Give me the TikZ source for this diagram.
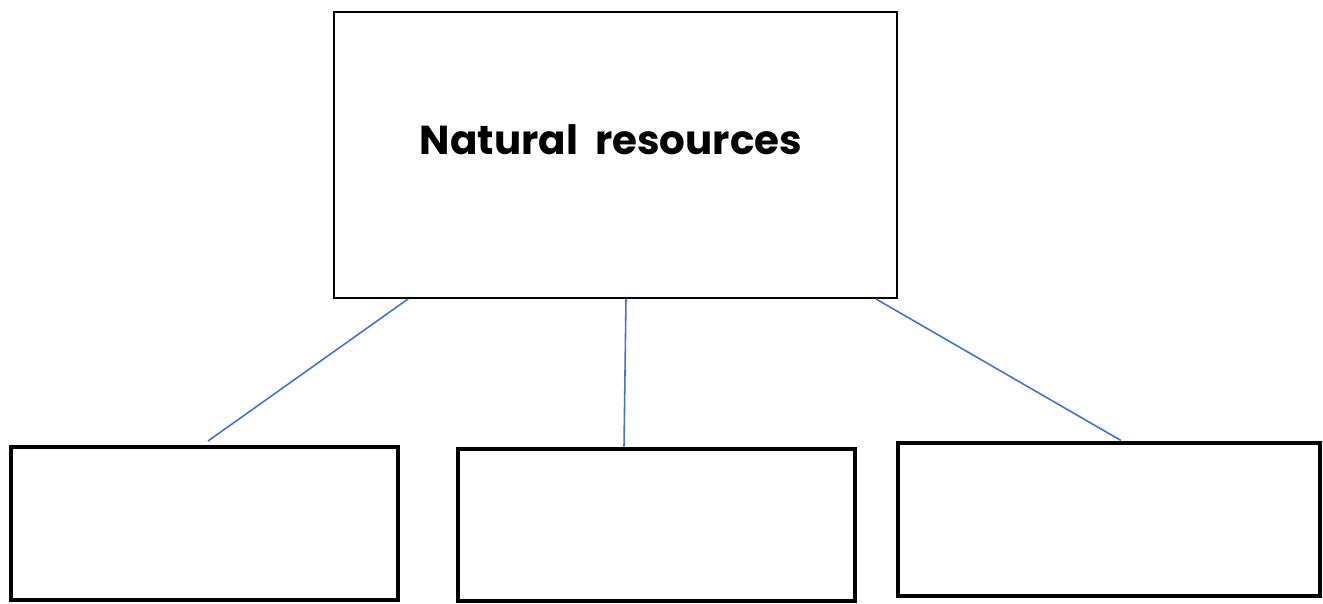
\documentclass[tikz,border=0pt]{standalone}
\usepackage{fontspec}
\setmainfont{Poppins}
\definecolor{linkblue}{HTML}{4472C4}

\begin{document}
\begin{tikzpicture}
	\useasboundingbox (0,0) rectangle (26.46,12.06);
	\tikzstyle{topbox}=[draw, line width=1.1pt, minimum width=11.26cm, minimum height=5.72cm, inner sep=0pt];
	\tikzstyle{leafbox}=[draw, line width=2.8pt, minimum width=7.8cm, minimum height=3.06cm, inner sep=0pt];
	\tikzstyle{link}=[linkblue, line width=0.9pt];
	\path (12.31,8.96) node[topbox] (res) {};
	\path (12.22,9.26) node[font=\bfseries\fontsize{23}{27}\selectfont] (title) {Natural\ \ resources};
	\path (4.09,1.59) node[leafbox, minimum width=7.74cm] (b1) {};
	\path (13.13,1.56) node[leafbox, minimum width=7.94cm, minimum height=3.04cm] (b2) {};
	\path (22.18,1.67) node[leafbox, minimum width=8.44cm] (b3) {};
	\coordinate (e1) at (4.16,3.24);
	\draw[link] ([xshift=1.5cm]res.south west) -- (e1);
	\draw[link] ([xshift=0.21cm]res.south) -- ([xshift=-0.65cm]b2.north);
	\draw[link] ([xshift=-0.44cm]res.south east) -- ([xshift=0.24cm]b3.north);
\end{tikzpicture}
\end{document}
